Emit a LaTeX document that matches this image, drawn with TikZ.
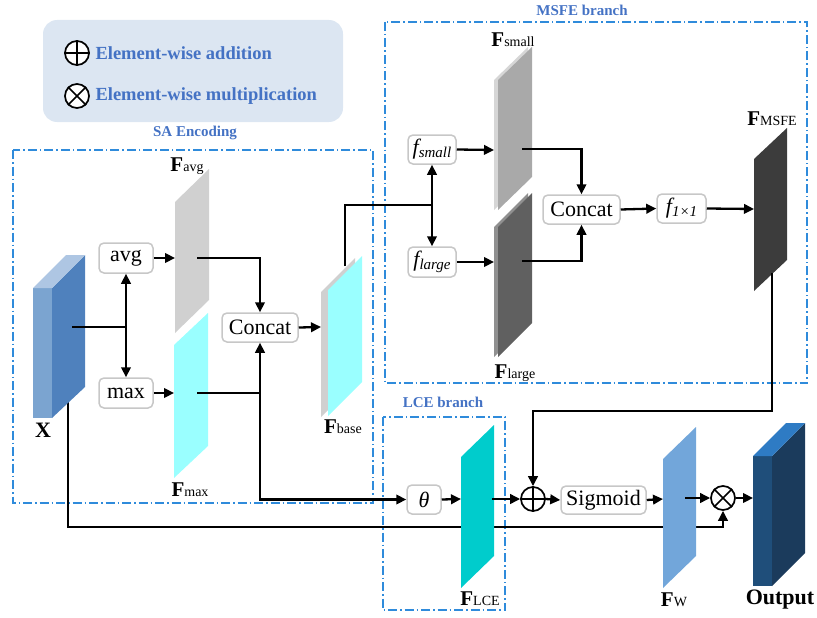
\documentclass[tikz,border=0pt]{standalone}
\usepackage{fontspec}
\setmainfont{Liberation Serif}
\usetikzlibrary{arrows.meta,calc}
\definecolor{dashblue}{HTML}{2F8BDB}
\definecolor{lblblue}{HTML}{4472C4}
\definecolor{legfill}{HTML}{DCE6F2}
\definecolor{pgray}{HTML}{D0D0D0}
\definecolor{pcyan}{HTML}{9AFFFF}
\definecolor{psmall}{HTML}{A9A9A9}
\definecolor{psmallb}{HTML}{D6D6D6}
\definecolor{plarge}{HTML}{606060}
\definecolor{plargeb}{HTML}{909090}
\definecolor{pmsfe}{HTML}{3C3C3C}
\definecolor{plce}{HTML}{00CCCC}
\definecolor{pw}{HTML}{72A6DA}
\definecolor{xtop}{HTML}{AEC6E3}
\definecolor{xfront}{HTML}{7BA4D0}
\definecolor{xside}{HTML}{4F81BD}
\definecolor{otop}{HTML}{2E7BC4}
\definecolor{ofront}{HTML}{1F4E7A}
\definecolor{oside}{HTML}{1B3B5C}
\newcommand{\myplane}[6]{\fill[#6] (#1,#2) -- ++(#3,-#5) -- ++(0,#4) -- ++(-#3,#5) -- cycle;}
\newcommand{\Flab}[1]{{\fontsize{21}{21}\selectfont\bfseries F}{\fontsize{14}{14}\selectfont #1}}
\newcommand{\fsub}[1]{{\itshape f}\raisebox{-3pt}{\fontsize{15}{15}\selectfont\itshape #1}}
\tikzset{
  opbox/.style={draw=black!22, line width=1.5pt, rounded corners=5pt, fill=white, inner sep=0pt, font=\fontsize{22}{24}\selectfont},
  arr/.style={line width=2.3pt, -{Triangle[length=10pt,width=9.5pt]}},
  ln/.style={line width=2.3pt},
  dbox/.style={draw=dashblue, line width=1.4pt, dash pattern=on 9pt off 3pt on 1.5pt off 3pt},
  seclbl/.style={text=lblblue, font=\fontsize{15}{15}\selectfont\bfseries},
  opcirc/.style={circle, draw, line width=1.7pt, minimum size=24pt, inner sep=0pt, fill=white},
}
\begin{document}
\begin{tikzpicture}[x=1pt,y=-1pt]
\useasboundingbox (0,0) rectangle (817,618);
% legend
\fill[legfill, rounded corners=14pt] (43,20) rectangle (343,122);
\node[opcirc] (legadd) at (77,53) {};
\draw[line width=1.7pt] (legadd.north) -- (legadd.south) (legadd.west) -- (legadd.east);
\node[opcirc] (legmul) at (77,96) {};
\draw[line width=1.7pt] (legmul.north west) -- (legmul.south east) (legmul.north east) -- (legmul.south west);
\node[anchor=west, text=lblblue, font=\fontsize{18.5}{19}\selectfont\bfseries] (legt1) at (92,53) {Element-wise addition};
\node[anchor=west, text=lblblue, font=\fontsize{18.5}{19}\selectfont\bfseries] (legt2) at (92,96) {Element-wise multiplication};
% section boxes
\draw[dbox] (13,150) rectangle (373,503);
\draw[dbox] (385,22) rectangle (807,383);
\draw[dbox] (383,417) rectangle (505,610);
\node[seclbl] (lsa) at (195,133) {SA Encoding};
\node[seclbl] (lmsfe) at (582,10) {MSFE branch};
\node[seclbl] (llce) at (443,402) {LCE branch};
% coordinates
\coordinate (xo) at (72,327);
\coordinate (xb) at (68,401);
\coordinate (favgin) at (175,258);
\coordinate (favgout) at (197,258);
\coordinate (fmaxin) at (174,393);
\coordinate (fmaxout) at (197,393);
\coordinate (fbasein) at (321,327);
\coordinate (fbaseout) at (345,266);
\coordinate (fsmallin) at (494,150);
\coordinate (fsmallout) at (522,149);
\coordinate (flargein) at (494,262);
\coordinate (flargeout) at (522,261);
\coordinate (fmsfein) at (754,209);
\coordinate (fmsfeout) at (772,273);
\coordinate (flcein) at (461,499);
\coordinate (flceout) at (492,499);
\coordinate (fwin) at (663,499);
\coordinate (fwout) at (685,498);
\coordinate (outin) at (753,498);
% operator nodes
\node[opbox, minimum width=54pt, minimum height=30pt] (avg) at (126,258) {avg};
\node[opbox, minimum width=54pt, minimum height=30pt] (max) at (126,393) {max};
\node[opbox, minimum width=76pt, minimum height=29pt] (concat) at (260,327.5) {Concat};
\node[opbox, minimum width=48pt, minimum height=29pt] (fsmall) at (432,149.5) {\fsub{small}};
\node[opbox, minimum width=48pt, minimum height=30pt] (flarge) at (432,262) {\fsub{large}};
\node[opbox, minimum width=77pt, minimum height=29pt] (concat2) at (581.5,209.5) {Concat};
\node[opbox, minimum width=49pt, minimum height=29pt] (f11) at (681.5,208.5) {\fsub{1×1}};
\node[opbox, minimum width=34pt, minimum height=29pt] (theta) at (424,499.5) {\itshape θ};
\node[opbox, minimum width=85pt, minimum height=28pt] (sigmoid) at (603.5,500) {Sigmoid};
\node[opcirc] (add) at (533,499) {};
\draw[line width=1.7pt] (add.north) -- (add.south) (add.west) -- (add.east);
\node[opcirc] (mul) at (723,498) {};
\draw[line width=1.7pt] (mul.north west) -- (mul.south east) (mul.north east) -- (mul.south west);
% skip line from X (behind planes)
\draw[arr] (xb) |- ([yshift=-16pt]mul.south) -- (mul.south);
% planes and blocks
\fill[xfront] (33,288) rectangle (52,418);
\fill[xside] (52,288) -- (85,255) -- (85,387) -- (52,418) -- cycle;
\fill[xtop] (33,288) -- (52,288) -- (85,255) -- (66,255) -- cycle;
\fill[ofront] (753,456) rectangle (772,586);
\fill[oside] (772,456) -- (805,423) -- (805,553) -- (772,586) -- cycle;
\fill[otop] (753,456) -- (772,456) -- (805,423) -- (786,423) -- cycle;
\myplane{175}{202}{34}{131}{33}{pgray}
\myplane{174}{345}{34}{133}{32}{pcyan}
\myplane{321}{292}{34}{125}{34}{pgray}
\myplane{328}{290}{34}{126}{34}{pcyan}
\myplane{494}{80}{34}{130}{33}{psmallb}
\myplane{498}{80}{34}{130}{33}{psmall}
\myplane{494}{227}{34}{130}{34}{plargeb}
\myplane{498}{227}{34}{130}{34}{plarge}
\myplane{754}{159}{33}{132}{31}{pmsfe}
\myplane{461}{457}{33}{131}{32}{plce}
\myplane{663}{459}{33}{129}{32}{pw}
% connectors
\draw[ln] (xo) -- (xo -| avg.south) coordinate (j1);
\draw[arr] (j1) -- (avg.south);
\draw[arr] (j1) -- (max.north);
\draw[arr] (avg.east) -- (favgin);
\draw[arr] (max.east) -- (fmaxin);
\draw[arr] (favgout) -| (concat.north);
\draw[arr] (fmaxout) -| (concat.south);
\draw[arr] (fmaxout -| concat.south) |- (theta.west);
\draw[arr] (concat.east) -- (fbasein);
\draw[ln] (fbaseout) |- (432,205) coordinate (j2);
\draw[arr] (j2) -- (fsmall.south);
\draw[arr] (j2) -- (flarge.north);
\draw[arr] (fsmall.east) -- (fsmallin);
\draw[arr] (flarge.east) -- (flargein);
\draw[arr] (fsmallout) -| (concat2.north);
\draw[arr] (flargeout) -| (concat2.south);
\draw[arr] (concat2.east) -- (f11.west);
\draw[arr] (f11.east) -- (fmsfein);
\draw[arr] (fmsfeout) |- ([yshift=75pt]add.north) -- (add.north);
\draw[arr] (theta.east) -- (flcein);
\draw[arr] (flceout) -- (add.west);
\draw[arr] (add.east) -- (sigmoid.west);
\draw[arr] (sigmoid.east) -- (fwin);
\draw[arr] (fwout) -- (mul.west);
\draw[arr] (mul.east) -- (outin);
% labels
\node (lavg) at (187,166) {\Flab{avg}};
\node (lmax) at (190,490) {\Flab{max}};
\node (lbase) at (343,427) {\Flab{base}};
\node (lsmall) at (513,40) {\Flab{small}};
\node (llarge) at (515,373) {\Flab{large}};
\node (lmsfe2) at (772,119) {\Flab{MSFE}};
\node (llce2) at (480,599) {\Flab{LCE}};
\node (lw) at (674,600) {\Flab{W}};
\node[font=\fontsize{22}{22}\selectfont\bfseries] (lx) at (43,430) {X};
\node[font=\fontsize{22}{22}\selectfont\bfseries] (lout) at (780,600) {Output};
\end{tikzpicture}
\end{document}
